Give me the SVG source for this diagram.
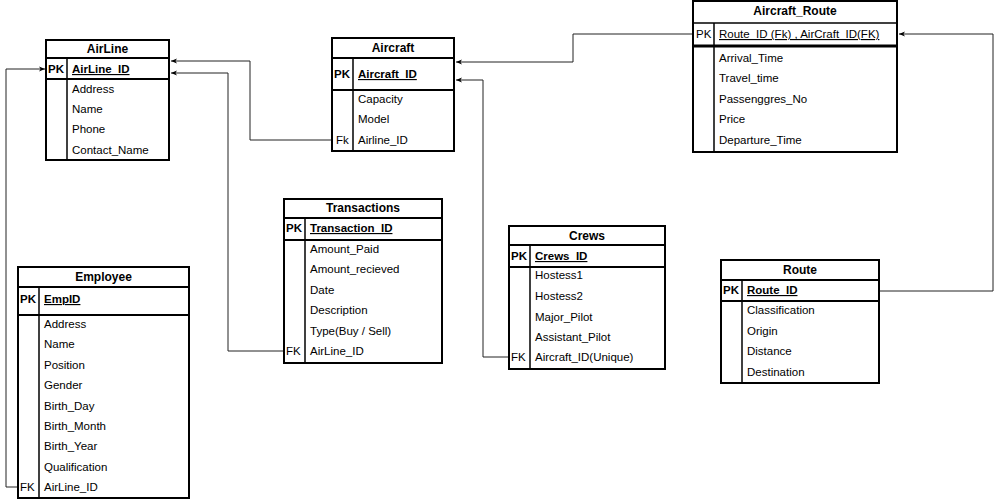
<svg xmlns="http://www.w3.org/2000/svg" width="1000" height="500" viewBox="0 0 1000 500">
<defs>
<style>
text{font-family:"Liberation Sans",Arial,sans-serif;font-size:11.5px;fill:#000}
.t{font-weight:bold;text-anchor:middle;font-size:12px}
.b{font-weight:bold}
.u{text-decoration:underline}
.box{fill:#fff;stroke:#000;stroke-width:2}
.ln{stroke:#000;stroke-width:2;fill:none}
.dv{stroke:#000;stroke-width:1.5;fill:none}
.c{stroke:#222;stroke-width:1;fill:none;marker-end:url(#ar)}
</style>
<marker id="ar" viewBox="0 0 8 8" refX="7" refY="4" markerWidth="7" markerHeight="7" markerUnits="userSpaceOnUse" orient="auto">
<path d="M0,1 L7,4 L0,7 L2,4 Z" fill="#000"/>
</marker>
</defs>
<rect width="1000" height="500" fill="#fff"/>

<g id="connectors">
<path class="c" d="M332,140 H250 V61 H171"/>
<path class="c" d="M284,351 H228 V73 H171"/>
<path class="c" d="M18,487 H6 V69 H45"/>
<path class="c" d="M693,34 H573 V62 H456"/>
<path class="c" d="M509,357 H483 V80 H456"/>
<path class="c" d="M880,291 H993 V34 H899"/>
</g>

<g id="AirLine">
<rect class="box" x="46" y="40" width="123" height="120"/>
<path class="ln" d="M46,58 H169 M46,79 H169"/>
<path class="dv" d="M67,58 V160"/>
<text class="t" x="107.5" y="53">AirLine</text>
<text class="b" x="48" y="73">PK</text>
<text class="b u" x="72" y="73">AirLine_ID</text>
<text x="72" y="93">Address</text>
<text x="72" y="113">Name</text>
<text x="72" y="133">Phone</text>
<text x="72" y="154">Contact_Name</text>
</g>

<g id="Aircraft">
<rect class="box" x="332" y="38" width="122" height="113"/>
<path class="ln" d="M332,58 H454 M332,90 H454"/>
<path class="dv" d="M353,58 V151"/>
<text class="t" x="393" y="52">Aircraft</text>
<text class="b" x="334" y="78">PK</text>
<text class="b u" x="358" y="78">Aircraft_ID</text>
<text x="358" y="103">Capacity</text>
<text x="358" y="123">Model</text>
<text x="336" y="144">Fk</text>
<text x="358" y="144">Airline_ID</text>
</g>

<g id="Aircraft_Route">
<rect class="box" x="693" y="1" width="204" height="151"/>
<path stroke="#000" stroke-width="1.5" d="M693,23 H897"/>
<path stroke="#000" stroke-width="3" d="M693,46 H897"/>
<path class="dv" d="M714,23 V152"/>
<text class="t" x="795" y="15">Aircraft_Route</text>
<text x="696" y="38">PK</text>
<text class="u" x="719" y="38">Route_ID (Fk) , AirCraft_ID(FK)</text>
<text x="719" y="62">Arrival_Time</text>
<text x="719" y="82">Travel_time</text>
<text x="719" y="103">Passenggres_No</text>
<text x="719" y="123">Price</text>
<text x="719" y="144">Departure_Time</text>
</g>

<g id="Transactions">
<rect class="box" x="284" y="199" width="158" height="164"/>
<path class="ln" d="M284,218 H442 M284,240 H442"/>
<path class="dv" d="M305,218 V363"/>
<text class="t" x="363" y="212">Transactions</text>
<text class="b" x="286" y="232">PK</text>
<text class="b u" x="310" y="232">Transaction_ID</text>
<text x="310" y="253">Amount_Paid</text>
<text x="310" y="273">Amount_recieved</text>
<text x="310" y="294">Date</text>
<text x="310" y="314">Description</text>
<text x="310" y="335">Type(Buy / Sell)</text>
<text x="286" y="355">FK</text>
<text x="310" y="355">AirLine_ID</text>
</g>

<g id="Crews">
<rect class="box" x="509" y="226" width="156" height="143"/>
<path class="ln" d="M509,245 H665 M509,267 H665"/>
<path class="dv" d="M530,245 V369"/>
<text class="t" x="587" y="240">Crews</text>
<text class="b" x="511" y="260">PK</text>
<text class="b u" x="535" y="260">Crews_ID</text>
<text x="535" y="279">Hostess1</text>
<text x="535" y="300">Hostess2</text>
<text x="535" y="321">Major_Pilot</text>
<text x="535" y="341">Assistant_Pilot</text>
<text x="511" y="361">FK</text>
<text x="535" y="361">Aircraft_ID(Unique)</text>
</g>

<g id="Route">
<rect class="box" x="721" y="260" width="158" height="123"/>
<path class="ln" d="M721,280 H879 M721,301 H879"/>
<path class="dv" d="M742,280 V383"/>
<text class="t" x="800" y="274">Route</text>
<text class="b" x="723" y="294">PK</text>
<text class="b u" x="747" y="294">Route_ID</text>
<text x="747" y="314">Classification</text>
<text x="747" y="335">Origin</text>
<text x="747" y="355">Distance</text>
<text x="747" y="376">Destination</text>
</g>

<g id="Employee">
<rect class="box" x="18" y="267" width="171" height="231"/>
<path class="ln" d="M18,287 H189 M18,315 H189"/>
<path class="dv" d="M39,287 V498"/>
<text class="t" x="103.5" y="281">Employee</text>
<text class="b" x="20" y="303">PK</text>
<text class="b u" x="44" y="303">EmpID</text>
<text x="44" y="328">Address</text>
<text x="44" y="348">Name</text>
<text x="44" y="369">Position</text>
<text x="44" y="389">Gender</text>
<text x="44" y="410">Birth_Day</text>
<text x="44" y="430">Birth_Month</text>
<text x="44" y="450">Birth_Year</text>
<text x="44" y="471">Qualification</text>
<text x="20" y="491">FK</text>
<text x="44" y="491">AirLine_ID</text>
</g>
</svg>
